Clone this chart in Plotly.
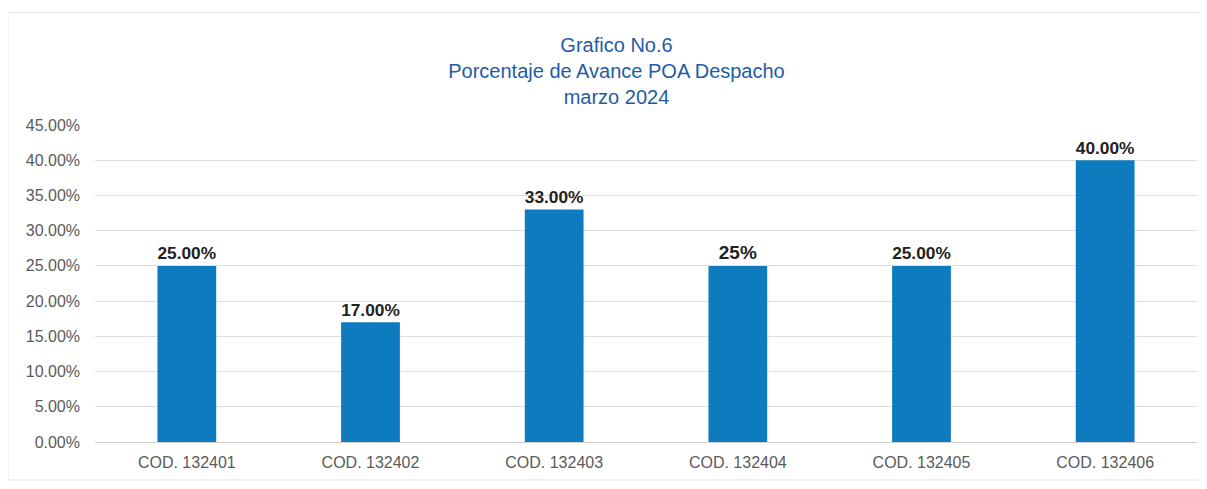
import plotly.graph_objects as go

# ── Data ─────────────────────────────────────────────────────────────────────
categories = ["COD. 132401", "COD. 132402", "COD. 132403",
              "COD. 132404", "COD. 132405", "COD. 132406"]
avance = [0.25, 0.17, 0.33, 0.25, 0.25, 0.40]
labels = ["25.00%", "17.00%", "33.00%", "25%", "25.00%", "40.00%"]
y_ticks = [0, 0.05, 0.10, 0.15, 0.20, 0.25, 0.30, 0.35, 0.40, 0.45]

# ── Theme ────────────────────────────────────────────────────────────────────
BAR_COLOR   = "#0F7BBF"
TITLE_COLOR = "#1F5CA6"
TICK_COLOR  = "#5A5A5A"
GRID_COLOR  = "#DEDEDE"
FONT        = "Liberation Sans, Arial, sans-serif"

# page body has an 8px default margin, so the figure is a bit smaller
fig = go.Figure(go.Bar(
    x=categories,
    y=avance,
    marker=dict(color=BAR_COLOR, line=dict(width=0)),
    text=labels,
    textposition="outside",
    textfont=dict(family=FONT, size=19, color="#222222", weight="bold"),
    cliponaxis=False,
))

fig.update_layout(
    title=dict(
        text="Grafico No.6<br>Porcentaje de Avance POA Despacho<br>marzo 2024",
        x=0.5075, xanchor="center",
        y=0.908, yanchor="top",
        font=dict(family=FONT, size=20, color=TITLE_COLOR),
    ),
    width=1199, height=481,
    margin=dict(l=87, r=10, t=117, b=47),
    paper_bgcolor="white",
    plot_bgcolor="white",
    bargap=0.68,
    showlegend=False,
    font=dict(family=FONT, color=TICK_COLOR),
    xaxis=dict(
        showgrid=False,
        showline=True, linecolor="#CFCFCF", linewidth=1,
        ticks="", ticklabelstandoff=6,
        tickfont=dict(size=16, color=TICK_COLOR),
    ),
    yaxis=dict(
        range=[0, 0.45],
        tickvals=y_ticks,
        tickformat=".2%",
        showgrid=True, gridcolor=GRID_COLOR, gridwidth=1,
        zeroline=False, showline=False,
        ticks="", ticklabelstandoff=14,
        tickfont=dict(size=16, color=TICK_COLOR),
    ),
    shapes=[dict(
        type="rect", xref="paper", yref="paper",
        x0=-0.079, x1=1.005, y0=-0.12, y1=1.355,
        line=dict(color="#E3E3E3", width=1),
    )],
)

fig.write_html("out.html")
